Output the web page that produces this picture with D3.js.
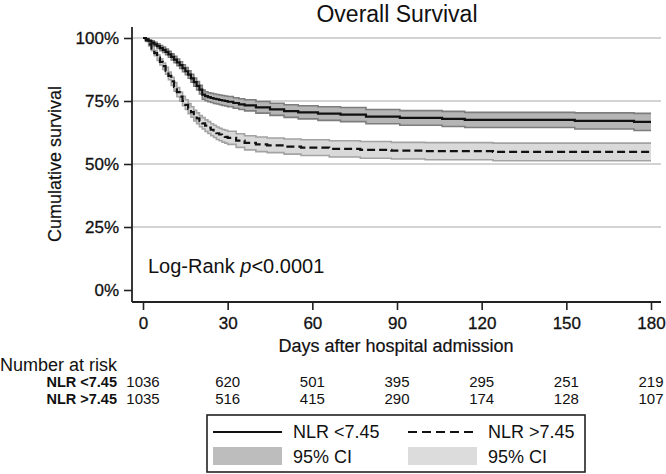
<!DOCTYPE html>
<html>
<head>
<meta charset="utf-8">
<script src="https://cdn.jsdelivr.net/npm/d3@7"></script>
<style>
  html, body { margin: 0; padding: 0; background: #fff; }
  svg { display: block; font-family: "Liberation Sans", Arial, sans-serif; }
</style>
</head>
<body>
<svg id="chart" width="666" height="474"></svg>
<script>
// ---------- data ----------
const xTicks = [0, 30, 60, 90, 120, 150, 180];
const yTicks = [0, 0.25, 0.5, 0.75, 1];
const groupLabels = ["NLR <7.45", "NLR >7.45"];

// Group 1: NLR <7.45 (solid)
const days1 = [0,1,2,3,4,5,6,7,8,9,10,11,12,13,14,15,16,17,18,19,20,21,22,23,24,25,26,27,28,29,30,32,34,36,40,45,50,55,62,70,79,91,106,114,153,174,180];
const surv1 = [1.0,0.995,0.988,0.982,0.975,0.968,0.96,0.953,0.945,0.935,0.925,0.914,0.903,0.892,0.88,0.868,0.855,0.84,0.825,0.81,0.795,0.775,0.769,0.765,0.762,0.759,0.757,0.754,0.752,0.75,0.747,0.742,0.737,0.733,0.725,0.717,0.710,0.705,0.700,0.696,0.688,0.683,0.679,0.675,0.671,0.667,0.667];
const hi1   = [1.0,0.998,0.993,0.989,0.983,0.977,0.970,0.964,0.956,0.947,0.937,0.927,0.916,0.906,0.894,0.883,0.870,0.856,0.841,0.827,0.812,0.793,0.787,0.783,0.781,0.778,0.776,0.774,0.772,0.770,0.768,0.763,0.759,0.755,0.748,0.741,0.735,0.731,0.727,0.724,0.716,0.712,0.709,0.705,0.703,0.701,0.701];
const lo1   = [1.0,0.992,0.983,0.975,0.967,0.959,0.950,0.943,0.934,0.924,0.913,0.902,0.890,0.879,0.866,0.854,0.840,0.825,0.809,0.794,0.778,0.757,0.751,0.747,0.744,0.740,0.738,0.735,0.732,0.730,0.727,0.721,0.716,0.711,0.702,0.693,0.685,0.679,0.673,0.668,0.660,0.654,0.649,0.645,0.639,0.633,0.633];

// Group 2: NLR >7.45 (dashed)
const days2 = [0,1,2,3,4,5,6,7,8,9,10,11,12,13,14,15,16,17,18,19,20,21,22,23,24,25,26,27,28,29,30,33,36,40,44,50,56,66,77,88,100,124,180];
const surv2 = [1.0,0.99,0.975,0.958,0.94,0.922,0.905,0.888,0.87,0.85,0.828,0.806,0.785,0.767,0.75,0.735,0.72,0.706,0.692,0.681,0.67,0.661,0.652,0.644,0.636,0.629,0.622,0.617,0.612,0.608,0.604,0.593,0.584,0.578,0.574,0.569,0.565,0.560,0.556,0.553,0.551,0.548,0.548];
const hi2   = [1.0,0.994,0.982,0.967,0.950,0.933,0.917,0.901,0.884,0.865,0.844,0.823,0.803,0.786,0.769,0.755,0.740,0.727,0.713,0.703,0.692,0.684,0.675,0.668,0.660,0.654,0.647,0.642,0.637,0.634,0.630,0.620,0.612,0.607,0.603,0.599,0.596,0.592,0.589,0.586,0.585,0.583,0.583];
const lo2   = [1.0,0.986,0.968,0.950,0.930,0.911,0.893,0.875,0.856,0.835,0.812,0.789,0.767,0.749,0.731,0.716,0.700,0.686,0.671,0.660,0.648,0.639,0.629,0.621,0.612,0.605,0.597,0.592,0.587,0.583,0.578,0.566,0.556,0.549,0.545,0.539,0.534,0.528,0.523,0.520,0.517,0.513,0.513];

// Number at risk
const risk1 = [1036, 620, 501, 395, 295, 251, 219];
const risk2 = [1035, 516, 415, 290, 174, 128, 107];

// ---------- drawing ----------
const svg = d3.select("#chart");
const x = d3.scaleLinear().domain([0, 180]).range([143, 651]);
const y = d3.scaleLinear().domain([0, 1]).range([290, 38]);
const axisLeftX = 132, axisBottomY = 302, plotRight = 661, plotTop = 27;

// gridlines
svg.append("g").selectAll("line").data(yTicks.filter(d => d > 0)).join("line")
  .attr("x1", axisLeftX).attr("x2", plotRight)
  .attr("y1", d => y(d)).attr("y2", d => y(d))
  .attr("stroke", "#c4c4c4").attr("stroke-width", 1.6);

function pts(days, vals) { return days.map((d, i) => [d, vals[i]]); }
const stepLine = d3.line().x(d => x(d[0])).y(d => y(d[1])).curve(d3.curveStepAfter);
const bandArea = d3.area().x(d => x(d.t)).y0(d => y(d.lo)).y1(d => y(d.hi)).curve(d3.curveStepAfter);

function drawGroup(days, surv, lo, hi, fill, edge, dash) {
  const band = days.map((t, i) => ({ t, lo: lo[i], hi: hi[i] }));
  svg.append("path").datum(band).attr("d", bandArea).attr("fill", fill).attr("stroke", "none");
  svg.append("path").datum(pts(days, hi)).attr("d", stepLine).attr("fill", "none").attr("stroke", edge).attr("stroke-width", 1.6);
  svg.append("path").datum(pts(days, lo)).attr("d", stepLine).attr("fill", "none").attr("stroke", edge).attr("stroke-width", 1.6);
  return () => svg.append("path").datum(pts(days, surv)).attr("d", stepLine)
    .attr("fill", "none").attr("stroke", "#111").attr("stroke-width", 2.2)
    .attr("stroke-dasharray", dash || null);
}
const l2 = drawGroup(days2, surv2, lo2, hi2, "#d9d9d9", "#a3a3a3", "8,4");
const l1 = drawGroup(days1, surv1, lo1, hi1, "#b5b5b5", "#7d7d7d", null);
l2(); l1();

// axes
const yAxis = svg.append("g").attr("transform", `translate(${axisLeftX},0)`)
  .call(d3.axisLeft(y).tickValues(yTicks).tickFormat(d3.format(".0%")).tickSize(8).tickPadding(5));
const xAxis = svg.append("g").attr("transform", `translate(0,${axisBottomY})`)
  .call(d3.axisBottom(x).tickValues(xTicks).tickSize(8).tickPadding(7));
[yAxis, xAxis].forEach(g => {
  g.select(".domain").remove();
  g.selectAll("line").attr("stroke", "#222").attr("stroke-width", 1.6);
  g.selectAll("text").attr("font-size", 17).attr("fill", "#111")
    .attr("font-family", "Liberation Sans, Arial, sans-serif")
    .attr("stroke", "#111").attr("stroke-width", 0.3);
});
svg.append("line").attr("x1", axisLeftX).attr("x2", axisLeftX).attr("y1", plotTop).attr("y2", axisBottomY)
  .attr("stroke", "#222").attr("stroke-width", 1.8);
svg.append("line").attr("x1", axisLeftX).attr("x2", plotRight).attr("y1", axisBottomY).attr("y2", axisBottomY)
  .attr("stroke", "#222").attr("stroke-width", 1.8);

// titles
svg.append("text").attr("x", 397).attr("y", 22).attr("text-anchor", "middle")
  .attr("font-size", 23).attr("fill", "#111").text("Overall Survival");
svg.append("text").attr("x", 396).attr("y", 352).attr("text-anchor", "middle")
  .attr("font-size", 18).attr("fill", "#111").attr("stroke", "#111").attr("stroke-width", 0.2)
  .text("Days after hospital admission");
svg.append("text").attr("transform", "translate(61,164) rotate(-90)").attr("text-anchor", "middle")
  .attr("font-size", 18).attr("fill", "#111").attr("stroke", "#111").attr("stroke-width", 0.2)
  .text("Cumulative survival");

const lr = svg.append("text").attr("x", 148).attr("y", 273).attr("font-size", 20).attr("fill", "#111");
lr.append("tspan").text("Log-Rank ");
lr.append("tspan").attr("font-style", "italic").text("p");
lr.append("tspan").text("<0.0001");

// number at risk
svg.append("text").attr("x", 0).attr("y", 371).attr("font-size", 18).attr("fill", "#111").text("Number at risk");
[[risk1, 387], [risk2, 404]].forEach(([arr, yy], gi) => {
  svg.append("text").attr("x", 117).attr("y", yy).attr("text-anchor", "end")
    .attr("font-size", 14.5).attr("font-weight", "bold").attr("fill", "#111").text(groupLabels[gi]);
  svg.append("g").selectAll("text").data(arr).join("text")
    .attr("x", (d, i) => x(xTicks[i])).attr("y", yy).attr("text-anchor", "middle")
    .attr("font-size", 15).attr("fill", "#111").text(d => d);
});

// legend
const lg = svg.append("g");
lg.append("rect").attr("x", 207).attr("y", 415).attr("width", 378).attr("height", 57)
  .attr("fill", "#fff").attr("stroke", "#222").attr("stroke-width", 1.6);
const legendItems = [
  { x0: 213, label: groupLabels[0], dash: null, fill: "#bdbdbd" },
  { x0: 408, label: groupLabels[1], dash: "9,5", fill: "#dcdcdc" }
];
legendItems.forEach(it => {
  lg.append("line").attr("x1", it.x0).attr("x2", it.x0 + 69).attr("y1", 432).attr("y2", 432)
    .attr("stroke", "#111").attr("stroke-width", 2).attr("stroke-dasharray", it.dash);
  lg.append("text").attr("x", it.x0 + 80).attr("y", 438).attr("font-size", 18).attr("fill", "#111").text(it.label);
  lg.append("rect").attr("x", it.x0).attr("y", 447).attr("width", 69).attr("height", 18).attr("fill", it.fill);
  lg.append("text").attr("x", it.x0 + 80).attr("y", 463).attr("font-size", 18).attr("fill", "#111").text("95% CI");
});
</script>
</body>
</html>
